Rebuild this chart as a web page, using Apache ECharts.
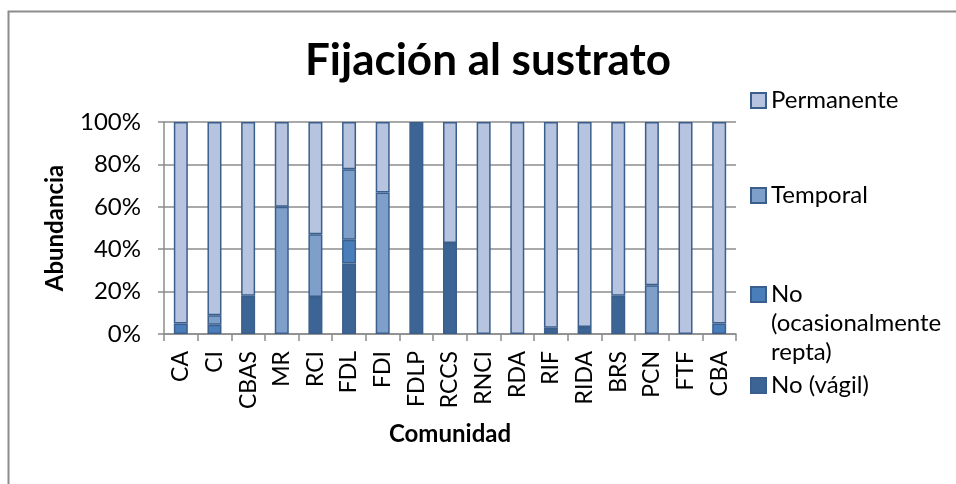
<!DOCTYPE html>
<html>
<head>
<meta charset="utf-8">
<script src="https://cdn.jsdelivr.net/npm/echarts@6/dist/echarts.min.js"></script>
<style>
  html, body { margin: 0; padding: 0; background: #fff; }
  #chart { width: 956px; height: 484px; }
</style>
</head>
<body>
<div id="chart"></div>
<script>
// datos (% por comunidad)
var comunidades = ["CA", "CI", "CBAS", "MR", "RCI", "FDL", "FDI", "FDLP", "RCCS", "RNCI", "RDA", "RIF", "RIDA", "BRS", "PCN", "FTF", "CBA"];
var noVagil     = [0, 0, 18, 0, 17.5, 33.3, 0, 100, 42.9, 0, 0, 3, 3.3, 18, 0, 0, 0];
var noOcasional = [5, 4.4, 0, 0, 0, 11.1, 0, 0, 0, 0, 0, 0, 0, 0, 0, 0, 5];
var temporal    = [0, 4.4, 0, 60, 29.5, 33.3, 66.7, 0, 0, 0, 0, 0, 0, 0, 23, 0, 0];
var permanente  = [95, 91.2, 82, 40, 53, 22.3, 33.3, 0, 57.1, 100, 100, 97, 96.7, 82, 77, 100, 95];
var yTicks = [0, 20, 40, 60, 80, 100];

var FONT = "Lato";
var borde = "#3b5f8d";
var gris = "#8c8c8c";

var chart = echarts.init(document.getElementById("chart"));

function serie(name, data, color) {
  return {
    name: name,
    type: "bar",
    stack: "total",
    barWidth: 14,
    // los ceros no se dibujan (evita bordes sueltos)
    data: data.map(function (v) { return v === 0 ? null : v; }),
    itemStyle: { color: color, borderColor: borde, borderWidth: 1.5 },
    animation: false
  };
}

function leyenda(name, top, label) {
  return {
    show: true,
    data: [name],
    left: 750,
    top: top,
    padding: 0,
    orient: "vertical",
    itemWidth: 15,
    itemHeight: 15,
    icon: "rect",
    formatter: label ? function () { return label; } : null,
    textStyle: { fontFamily: FONT, fontSize: 24, color: "#000", lineHeight: 29 }
  };
}

chart.setOption({
  backgroundColor: "#fff",
  title: {
    text: "Fijación al sustrato",
    left: 488,
    textAlign: "center",
    top: 39,
    padding: 0,
    textStyle: { fontFamily: FONT, fontSize: 44, fontWeight: "bold", color: "#000" }
  },
  graphic: [{
    type: "rect",
    left: 6,
    top: 9,
    shape: { width: 1200, height: 800 },
    style: { fill: "none", stroke: gris, lineWidth: 2 },
    silent: true
  }],
  legend: [
    leyenda("Permanente", 86),
    leyenda("Temporal", 181),
    leyenda("No (ocasionalmente repta)", 222, "\n\nNo\n(ocasionalmente\nrepta)"),
    leyenda("No (vágil)", 371)
  ],
  grid: { left: 164, right: 220, top: 122, bottom: 150 },
  xAxis: {
    type: "category",
    data: comunidades,
    name: "Comunidad",
    nameLocation: "middle",
    nameGap: 88,
    nameTextStyle: { fontFamily: FONT, fontSize: 24, fontWeight: "bold", color: "#000" },
    axisLine: { lineStyle: { color: gris, width: 1.5 } },
    axisTick: { show: true, length: 7, lineStyle: { color: gris, width: 1.5 } },
    axisLabel: { rotate: 90, margin: 17, fontFamily: FONT, fontSize: 23, color: "#000" }
  },
  yAxis: {
    type: "value",
    min: 0,
    max: 100,
    interval: 20,
    name: "Abundancia",
    nameLocation: "middle",
    nameGap: 97,
    nameTextStyle: { fontFamily: FONT, fontSize: 24, fontWeight: "bold", color: "#000" },
    axisLine: { show: true, lineStyle: { color: gris, width: 1.5 } },
    axisTick: { show: true, length: 6, lineStyle: { color: gris, width: 1.5 } },
    splitLine: { lineStyle: { color: gris, width: 1.5 } },
    axisLabel: {
      margin: 23,
      fontFamily: FONT,
      fontSize: 24,
      color: "#000",
      formatter: function (v) { return yTicks.indexOf(v) >= 0 ? v + "%" : ""; }
    }
  },
  series: [
    serie("No (vágil)", noVagil, "#3c6595"),
    serie("No (ocasionalmente repta)", noOcasional, "#4a7ebb"),
    serie("Temporal", temporal, "#7f9fcb"),
    serie("Permanente", permanente, "#b7c4e0")
  ]
});
</script>
</body>
</html>
